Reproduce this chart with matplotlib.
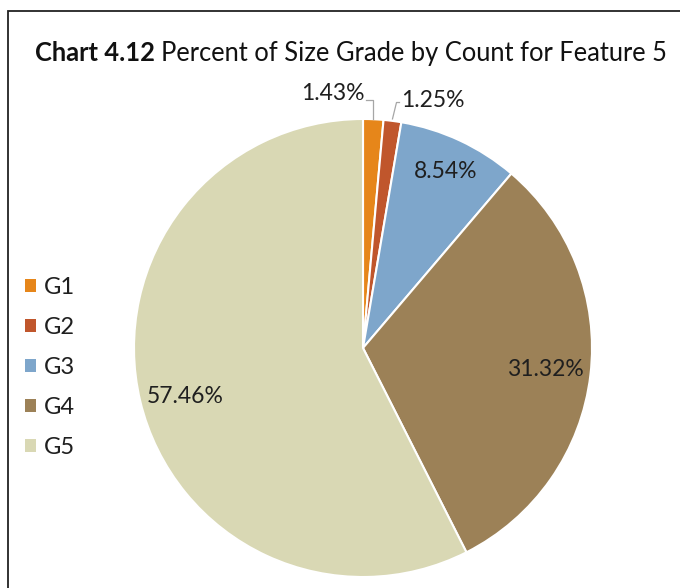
import numpy as np
import matplotlib
matplotlib.use("Agg")
import matplotlib.pyplot as plt
import matplotlib.patches as patches

plt.rcParams['font.family'] = ['Lato', 'DejaVu Sans']

categories = ['G1', 'G2', 'G3', 'G4', 'G5']
percents = [1.43, 1.25, 8.54, 31.32, 57.46]
colors = ['#E6861A', '#C0562C', '#7EA6CB', '#9C8157', '#D9D8B4']
pct_labels = ['1.43%', '1.25%', '8.54%', '31.32%', '57.46%']

W, H = 680, 588
fig = plt.figure(figsize=(W / 100, H / 100), dpi=100)
ax = fig.add_axes([0, 0, 1, 1])

cx, cy, r = 363, H - 348, 229
wedges, _ = ax.pie(percents, colors=colors, startangle=90, counterclock=False,
                   center=(cx, cy), radius=r,
                   wedgeprops=dict(edgecolor='white', linewidth=1.5))
ax.set_xlim(0, W)
ax.set_ylim(0, H)
ax.set_aspect('equal')
ax.axis('off')

txt_color = '#1f1f1f'
lbl_size = 16.5

# inside labels
inside = {2: 0.85, 3: 0.80, 4: 0.80}
for i, d in inside.items():
    w = wedges[i]
    mid = np.deg2rad((w.theta1 + w.theta2) / 2)
    ax.text(cx + d * r * np.cos(mid), cy + d * r * np.sin(mid) - (6 if i == 4 else 0),
            pct_labels[i], ha='center', va='center', fontsize=lbl_size, color=txt_color)

# outside labels with leader lines for the two small slices
lead = '#A6A6A6'
w = wedges[0]
mid = np.deg2rad((w.theta1 + w.theta2) / 2)
x0, y0 = cx + r * np.cos(mid), cy + r * np.sin(mid)
y1 = cy + 1.083 * r
ax.plot([x0, x0, x0 - 7], [y0, y1, y1], color=lead, lw=0.9)
ax.text(x0 - 9, y1 + 6, pct_labels[0], ha='right', va='center',
        fontsize=lbl_size, color=txt_color)

w = wedges[1]
mid = np.deg2rad((w.theta1 + w.theta2) / 2)
x0, y0 = cx + r * np.cos(mid), cy + r * np.sin(mid)
x1, y1 = x0 + 4, cy + 1.072 * r
ax.plot([x0, x1, x1 + 3], [y0 + 2, y1, y1], color=lead, lw=0.9)
ax.text(x1 + 5, y1 + 2, pct_labels[1], ha='left', va='center',
        fontsize=lbl_size, color=txt_color)

# frame border (chart area is cropped on right/bottom)
ax.add_patch(patches.Rectangle((8, -20), W + 20, H - 11 + 20, fill=False,
                               edgecolor='#222222', lw=1.3))

# title with bold prefix
t1 = fig.text(35 / W, 1 - 61 / H, 'Chart 4.12', fontsize=18.4, fontweight='bold',
              color='#111111', va='baseline', ha='left')
fig.canvas.draw()
bb = t1.get_window_extent()
fig.text((bb.x1 + 6) / W, 1 - 61 / H, 'Percent of Size Grade by Count for Feature 5',
         fontsize=18.4, color='#111111', va='baseline', ha='left')

handles = [patches.Patch(facecolor=c, edgecolor='none') for c in colors]
ax.legend(handles, categories, loc='upper left', bbox_to_anchor=(4 / W, 1 - 256 / H),
          frameon=False, fontsize=17, handlelength=0.45, handleheight=0.45,
          handletextpad=0.35, labelspacing=0.80, labelcolor=txt_color)

fig.savefig('out.png', dpi=100)
